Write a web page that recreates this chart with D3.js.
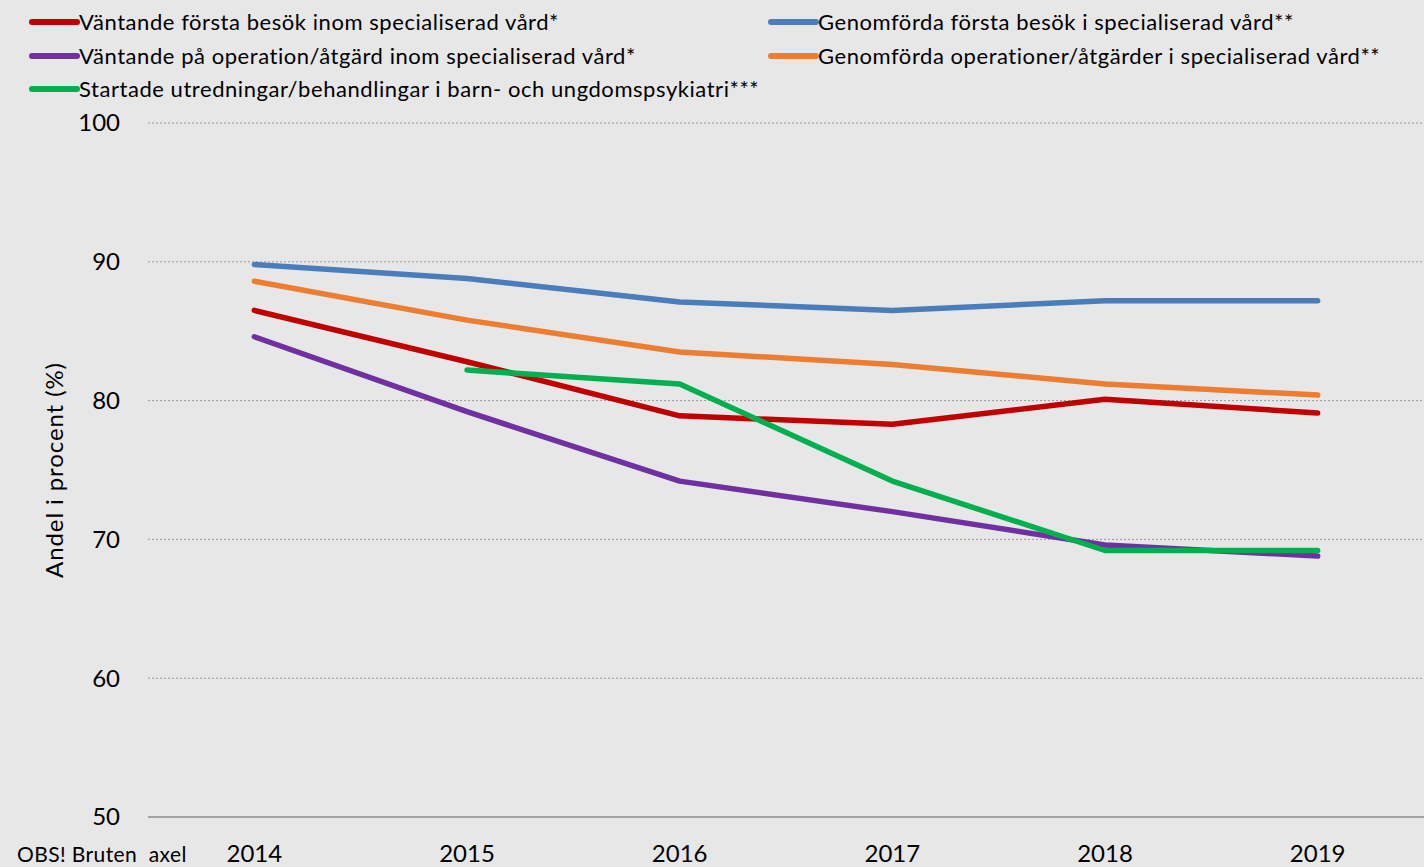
<!DOCTYPE html>
<html><head><meta charset="utf-8">
<script src="https://cdn.jsdelivr.net/npm/d3@7"></script>
<style>body{margin:0;background:#e7e7e7;} svg{display:block;}</style>
</head><body>
<svg id="c" width="1424" height="867"></svg>
<script>
const years = ["2014","2015","2016","2017","2018","2019"];
const yTicks = [50,60,70,80,90,100];
const redVals = [86.5, 82.8, 78.9, 78.3, 80.1, 79.1];
const blueVals = [89.8, 88.8, 87.1, 86.5, 87.2, 87.2];
const orangeVals = [88.6, 85.8, 83.5, 82.6, 81.2, 80.4];
const purpleVals = [84.6, 79.2, 74.2, 72.0, 69.6, 68.8];
const greenVals = [null, 82.2, 81.2, 74.2, 69.2, 69.2];
const seriesNames = [
  "Väntande första besök inom specialiserad vård*",
  "Genomförda första besök i specialiserad vård**",
  "Väntande på operation/åtgärd inom specialiserad vård*",
  "Genomförda operationer/åtgärder i specialiserad vård**",
  "Startade utredningar/behandlingar i barn- och ungdomspsykiatri***"
];
const seriesColors = ["#c00000","#4a7ebb","#7030a0","#ed7d31","#00b050"];
const seriesVals = [redVals, blueVals, purpleVals, orangeVals, greenVals];

const svg = d3.select("#c");
const font = "Lato, 'Open Sans', sans-serif";
svg.append("rect").attr("width",1424).attr("height",867).attr("fill","#e7e7e7");

const x = d3.scalePoint().domain(years).range([148,1424]).padding(0.5);
const y = d3.scaleLinear().domain([50,100]).range([817,123]);

// gridlines
svg.append("g").selectAll("line").data(yTicks.filter(d=>d>50)).join("line")
  .attr("x1",148).attr("x2",1424).attr("y1",d=>y(d)).attr("y2",d=>y(d))
  .attr("stroke","#9a9a9a").attr("stroke-width",1).attr("stroke-dasharray","2,2");
// base axis
svg.append("line").attr("x1",148).attr("x2",1424).attr("y1",y(50)).attr("y2",y(50))
  .attr("stroke","#8c8c8c").attr("stroke-width",1.5);

// y labels
svg.append("g").selectAll("text").data(yTicks).join("text")
  .attr("x",120).attr("y",d=>y(d)).attr("dy","0.35em").attr("text-anchor","end")
  .attr("font-family",font).attr("font-size",24).attr("fill","#000").text(d=>d);

// x labels
svg.append("g").selectAll("text").data(years).join("text")
  .attr("x",d=>x(d)).attr("y",862).attr("text-anchor","middle")
  .attr("font-family",font).attr("font-size",24).attr("fill","#000").text(d=>d);

svg.append("text").attr("x",17).attr("y",862).attr("font-family",font).attr("font-size",21)
  .attr("letter-spacing",0.4).attr("fill","#000").text("OBS! Bruten  axel").style("white-space","pre");

svg.append("text").attr("transform","translate(63,470) rotate(-90)").attr("text-anchor","middle")
  .attr("font-family",font).attr("font-size",24).attr("letter-spacing",0.9).attr("fill","#000").text("Andel i procent (%)");

// lines
const line = d3.line().defined(d=>d.v!=null).x(d=>x(d.year)).y(d=>y(d.v));
seriesVals.forEach((vals,i)=>{
  svg.append("path").datum(years.map((yr,j)=>({year:yr,v:vals[j]})))
    .attr("d",line).attr("fill","none").attr("stroke",seriesColors[i])
    .attr("stroke-width",5.5).attr("stroke-linejoin","round").attr("stroke-linecap","round");
});

// legend
const legPos = [[32,22],[771,22],[32,56],[771,56],[32,89]];
seriesNames.forEach((n,i)=>{
  const [lx,ly] = legPos[i];
  svg.append("line").attr("x1",lx).attr("x2",lx+45).attr("y1",ly).attr("y2",ly)
    .attr("stroke",seriesColors[i]).attr("stroke-width",6).attr("stroke-linecap","round");
  svg.append("text").attr("x",lx+47).attr("y",ly).attr("dy","0.35em")
    .attr("font-family",font).attr("font-size",22).attr("letter-spacing",0.55).attr("fill","#000").text(n);
});
</script>
</body></html>
